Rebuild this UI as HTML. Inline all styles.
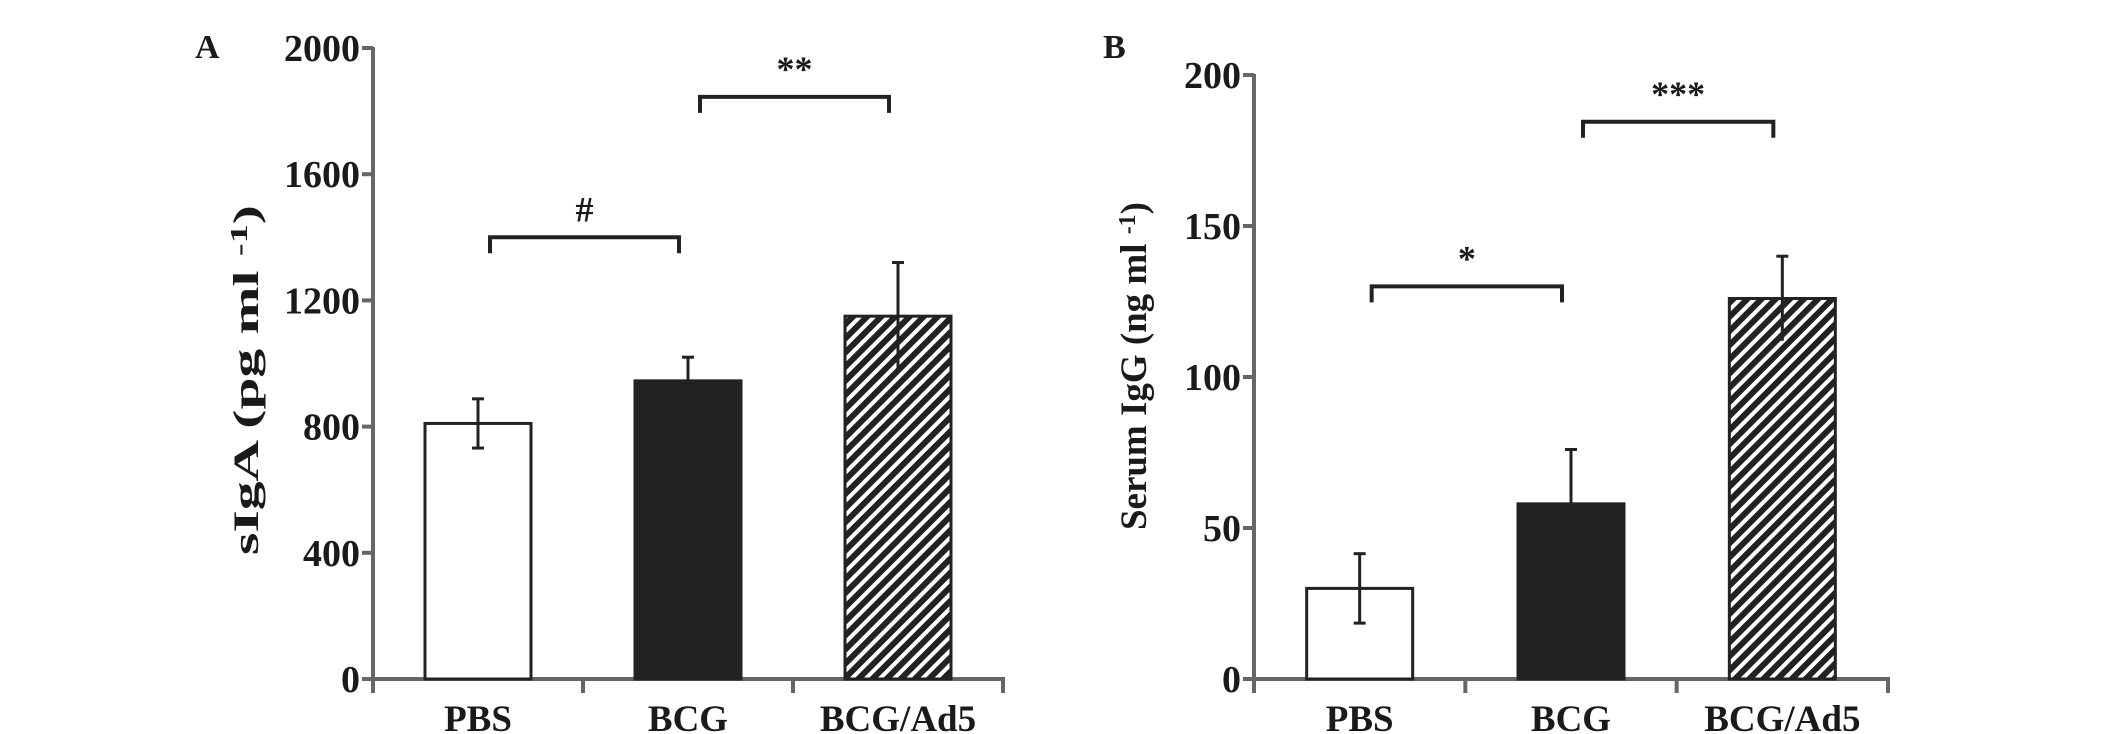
<!DOCTYPE html>
<html><head><meta charset="utf-8"><style>
html,body{margin:0;padding:0;background:#fff;}
svg{display:block;}
text{font-family:"Liberation Serif",serif;font-weight:bold;fill:#1a1a1a;}
</style></head><body>
<svg id="chart" width="2126" height="734" viewBox="0 0 2126 734">
<defs>
<pattern id="hatch" patternUnits="userSpaceOnUse" width="10" height="10" patternTransform="rotate(45)">
<rect width="10" height="10" fill="#222"/>
<rect x="0" y="0" width="4" height="10" fill="#fff"/>
</pattern>
</defs>
</svg>
<script>
const categories = ["PBS","BCG","BCG/Ad5"];
const valuesA = [810, 945, 1150];
const errA = [78, 75, 170];
const ticksA = [0, 400, 800, 1200, 1600, 2000];
const valuesB = [30, 58, 126];
const errB = [11.5, 18, 14];
const ticksB = [0, 50, 100, 150, 200];
const sigA = [{from:0,to:1,level:1400,label:"#"},{from:1,to:2,level:1845,label:"**"}];
const sigB = [{from:0,to:1,level:130,label:"*"},{from:1,to:2,level:184.5,label:"***"}];

const svg = document.getElementById('chart');
const NS = 'http://www.w3.org/2000/svg';
function mk(tag, attrs, parent){
  const e = document.createElementNS(NS, tag);
  for (const k in attrs) e.setAttribute(k, attrs[k]);
  (parent||svg).appendChild(e);
  return e;
}
const fills = ['#fff','#222','url(#hatch)'];

function panel(cfg){
  const g = mk('g', {});
  
  
  const y = v => cfg.y0 - (v - 0) / cfg.max * (cfg.y0 - cfg.yTop);
  const slot = (cfg.xEnd - cfg.ax) / categories.length;
  const cx = i => cfg.ax + slot * (i + 0.5);
  const yAxis = mk('line', {x1:cfg.ax, y1:cfg.yTop-1, x2:cfg.ax, y2:cfg.y0+14, stroke:'#666', 'stroke-width':4}, g);
  
  
  const xAxis = mk('line', {x1:cfg.ax, y1:cfg.y0, x2:cfg.xEnd+2, y2:cfg.y0, stroke:'#666', 'stroke-width':4}, g);
  
  
  cfg.ticks.forEach(t => {
    mk('line', {x1:cfg.ax-11, y1:y(t), x2:cfg.ax, y2:y(t), stroke:'#666', 'stroke-width':4}, g);
    const tx = mk('text', {x:cfg.ax-13, y:y(t)+13, 'text-anchor':'end', 'font-size':38, textLength:String(t).length*19, lengthAdjust:'spacingAndGlyphs'}, g);
    tx.textContent = t;
    
    
  });
  for (let i = 1; i <= categories.length; i++) {
    mk('line', {x1:cfg.ax+slot*i, y1:cfg.y0, x2:cfg.ax+slot*i, y2:cfg.y0+14, stroke:'#666', 'stroke-width':4}, g);
  }
  categories.forEach((c, i) => {
    const w = 106;
    const top = y(cfg.values[i]);
    const r = mk('rect', {x:cx(i)-w/2, y:top, width:w, height:cfg.y0-top, fill:fills[i], stroke:'#222', 'stroke-width':3}, g);
    
    
    const hi = y(cfg.values[i] + cfg.err[i]), lo = y(cfg.values[i] - cfg.err[i]);
    const eb = mk('g', {stroke:'#222', 'stroke-width':3}, g);
    
    
    mk('line', {x1:cx(i), y1:hi, x2:cx(i), y2:lo}, eb);
    mk('line', {x1:cx(i)-6, y1:hi, x2:cx(i)+6, y2:hi}, eb);
    if (i === 0) mk('line', {x1:cx(i)-6, y1:lo, x2:cx(i)+6, y2:lo}, eb);
    const lb = mk('text', {x:cx(i), y:cfg.y0+52, 'text-anchor':'middle', 'font-size':37}, g);
    lb.textContent = c;
    
    
  });
  cfg.sig.forEach(s => {
    const x1 = cx(s.from) + 12, x2 = cx(s.to) - 9, yy = y(s.level);
    const br = mk('path', {d:`M${x1},${yy+16} V${yy} H${x2} V${yy+16}`, fill:'none', stroke:'#222', 'stroke-width':4}, g);
    
    
    const st = mk('text', {x:(x1+x2)/2, y:yy-16, 'text-anchor':'middle', 'font-size':36}, g);
    st.textContent = s.label;
    
    
  });
  const yt = mk('text', {x:0, y:0, 'text-anchor':'middle', 'font-size':cfg.ylfs, textLength:cfg.ylen, lengthAdjust:'spacingAndGlyphs', transform:`translate(${cfg.ylx},${cfg.yly}) rotate(-90)`}, g);
  yt.innerHTML = cfg.ylabel;
  
  
  const pl = mk('text', {x:cfg.plx, y:58, 'font-size':34}, g);
  pl.textContent = cfg.letter;
  
  
}

panel({name:'panel-a', ax:373, y0:679, yTop:48, max:2000, xEnd:1003, values:valuesA, err:errA, ticks:ticksA, sig:sigA,
  ylx:258, yly:380, ylfs:36, ylen:350, ylabel:'sIgA (pg ml <tspan font-size="24" dy="-11">-1</tspan><tspan dy="11">)</tspan>', letter:'A', plx:195});
panel({name:'panel-b', ax:1254, y0:679, yTop:75, max:200, xEnd:1888, values:valuesB, err:errB, ticks:ticksB, sig:sigB,
  ylx:1146, yly:366, ylfs:37, ylen:328, ylabel:'Serum IgG (ng ml <tspan font-size="24" dy="-11">-1</tspan><tspan dy="11">)</tspan>', letter:'B', plx:1103});
</script>
</body></html>
